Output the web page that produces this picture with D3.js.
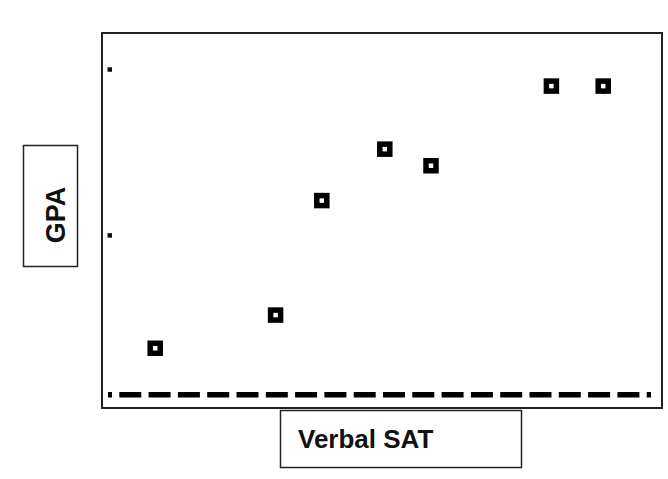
<!DOCTYPE html>
<html><head><meta charset="utf-8">
<script src="https://cdn.jsdelivr.net/npm/d3@7"></script>
<style>html,body{margin:0;padding:0;background:#fff;}svg{display:block;}</style>
</head><body>
<script>
// Data
const verbalSAT = [438, 524, 557, 602, 635, 721, 758];
const gpa       = [2.32, 2.52, 3.21, 3.52, 3.42, 3.90, 3.90];
const yTicks    = [3, 4];
const baselineGPA = 2.04;
const xLabel = "Verbal SAT";
const yLabel = "GPA";

const W = 668, H = 479;
const svg = d3.select("body").append("svg").attr("width", W).attr("height", H);

const frame = {x: 102, y: 33, w: 560, h: 375};
const x = d3.scaleLinear().domain([400, 800]).range([frame.x, frame.x + frame.w]);
const y = d3.scaleLinear().domain([1.96, 4.22]).range([frame.y + frame.h, frame.y]);

// frame
svg.append("rect").attr("x", frame.x).attr("y", frame.y).attr("width", frame.w).attr("height", frame.h)
  .attr("fill", "#fff").attr("stroke", "#222").attr("stroke-width", 2);

// y ticks as small squares
svg.selectAll("rect.tick").data(yTicks).enter().append("rect").attr("class", "tick")
  .attr("x", 107.5).attr("y", d => y(d) - 2.25).attr("width", 4.5).attr("height", 4.5).attr("fill", "#111");

// dashed baseline
svg.append("line")
  .attr("x1", 108).attr("x2", 651).attr("y1", y(baselineGPA)).attr("y2", y(baselineGPA))
  .attr("stroke", "#000").attr("stroke-width", 5.5)
  .attr("stroke-dasharray", "22 7.3").attr("stroke-dashoffset", 18);

// points
const pts = verbalSAT.map((v, i) => ({x: v, y: gpa[i]}));
svg.selectAll("rect.pt").data(pts).enter().append("rect").attr("class", "pt")
  .attr("x", d => x(d.x) - 5).attr("y", d => y(d.y) - 5).attr("width", 10).attr("height", 10)
  .attr("fill", "#fff").attr("stroke", "#000").attr("stroke-width", 5.5);

// y label box
svg.append("rect").attr("x", 23.5).attr("y", 145.5).attr("width", 54).attr("height", 121)
  .attr("fill", "#fff").attr("stroke", "#222").attr("stroke-width", 1.5);
svg.append("text").attr("transform", "translate(65,215) rotate(-90)")
  .attr("text-anchor", "middle")
  .attr("font-family", "Liberation Sans, Arial, sans-serif").attr("font-weight", "bold")
  .attr("font-size", 27).attr("fill", "#111").text(yLabel);

// x label box
svg.append("rect").attr("x", 280.5).attr("y", 410.5).attr("width", 241).attr("height", 57)
  .attr("fill", "#fff").attr("stroke", "#222").attr("stroke-width", 1.5);
svg.append("text").attr("x", 298).attr("y", 448)
  .attr("font-family", "Liberation Sans, Arial, sans-serif").attr("font-weight", "bold")
  .attr("font-size", 26).attr("fill", "#111").text(xLabel);
</script>
</body></html>
